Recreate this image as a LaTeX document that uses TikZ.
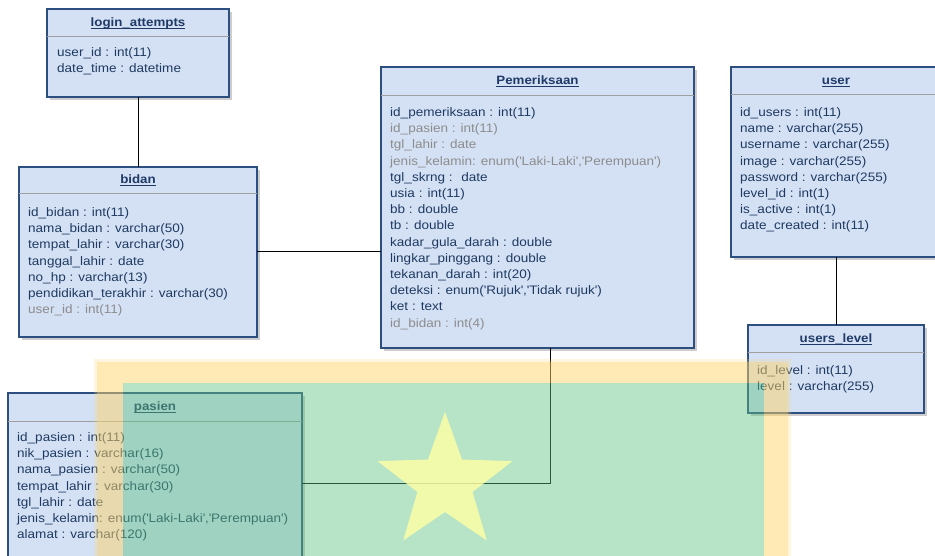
\documentclass[tikz,border=0pt]{standalone}
\usepackage{fontspec}
\setmainfont{Liberation Sans}[FakeStretch=1.1]
\usetikzlibrary{calc}
\definecolor{boxfill}{HTML}{D4E1F5}
\definecolor{bordercol}{HTML}{2D4F7F}
\definecolor{titlecol}{HTML}{1F3A66}
\definecolor{textcol}{HTML}{1E3A60}
\definecolor{fkgray}{HTML}{8C8C8C}
\definecolor{divcol}{HTML}{A0A0A0}
\definecolor{shadowcol}{HTML}{CDCDCD}
\definecolor{ovyellow}{RGB}{255,211,105}
\definecolor{ovgreen}{RGB}{95,193,129}
\definecolor{staryellow}{RGB}{255,254,165}
\newcommand\q{\textquotesingle}
\newcommand\fk[1]{\textcolor{fkgray}{#1}}
\newcommand\ulx[1]{\setbox0\hbox{#1}\rlap{\rule[-2.2pt]{\wd0}{0.8pt}}\box0}
\newcommand\rowlist[1]{\parbox[t]{340pt}{\fontsize{12.3}{16.2}\selectfont\raggedright #1}}
\tikzset{
  tbl/.style={draw=bordercol, fill=boxfill, line width=1.2pt, inner sep=0pt, outer sep=0pt},
  ttl/.style={font=\fontsize{12.1}{14}\selectfont\bfseries, text=titlecol, anchor=base, inner sep=0pt},
  rowtext/.style={text=textcol, anchor=base west, inner sep=0pt},
  divline/.style={draw=divcol, line width=0.9pt},
  conn/.style={draw=black, line width=1pt},
}
\begin{document}
\begin{tikzpicture}[x=1pt,y=-1pt]
\useasboundingbox (0,0) rectangle (935,556);
\clip (0,0) rectangle (935,556);

% login_attempts
\fill[shadowcol] (50,12) rectangle (232,100);
\node[tbl, minimum width=182, minimum height=88] (login) at (138,53) {};
\draw[divline] (47,36) -- (229,36);
\node[ttl] (login-title) at (138,26.5) {\ulx{login\_attempts}};
\node[rowtext] (login-rows) at (57,56.5) {\rowlist{user\_id : int(11)\\ date\_time : datetime}};

% bidan
\fill[shadowcol] (22,170) rectangle (260,340);
\node[tbl, minimum width=238, minimum height=170] (bidan) at (138,252) {};
\draw[divline] (19,193) -- (257,193);
\node[ttl] (bidan-title) at (138,183.5) {\ulx{bidan}};
\node[rowtext] (bidan-rows) at (28,216.5) {\rowlist{id\_bidan : int(11)\\ nama\_bidan : varchar(50)\\ tempat\_lahir : varchar(30)\\ tanggal\_lahir : date\\ no\_hp : varchar(13)\\ pendidikan\_terakhir : varchar(30)\\ \fk{user\_id : int(11)}}};

% Pemeriksaan
\fill[shadowcol] (384,70) rectangle (697,351);
\node[tbl, minimum width=313, minimum height=281] (pem) at (537.5,207.5) {};
\draw[divline] (381,95) -- (694,95);
\node[ttl] (pem-title) at (537.5,84.5) {\ulx{Pemeriksaan}};
\node[rowtext] (pem-rows) at (390,116.5) {\rowlist{id\_pemeriksaan : int(11)\\ \fk{id\_pasien : int(11)}\\ \fk{tgl\_lahir : date}\\ \fk{jenis\_kelamin: enum(\q Laki-Laki\q,\q Perempuan\q)}\\ tgl\_skrng :~ date\\ usia : int(11)\\ bb : double\\ tb : double\\ kadar\_gula\_darah : double\\ lingkar\_pinggang : double\\ tekanan\_darah : int(20)\\ deteksi : enum(\q Rujuk\q,\q Tidak rujuk\q)\\ ket : text\\ \fk{id\_bidan : int(4)}}};

% user
\fill[shadowcol] (734,70) rectangle (944,260);
\node[tbl, minimum width=210, minimum height=190] (user) at (836,162) {};
\draw[divline] (731,94) -- (941,94);
\node[ttl] (user-title) at (836,84.5) {\ulx{user}};
\node[rowtext] (user-rows) at (740,116.5) {\rowlist{id\_users : int(11)\\ name : varchar(255)\\ username : varchar(255)\\ image : varchar(255)\\ password : varchar(255)\\ level\_id : int(1)\\ is\_active : int(1)\\ date\_created : int(11)}};

% users_level
\fill[shadowcol] (751,328) rectangle (927,416);
\node[tbl, minimum width=176, minimum height=88] (ulevel) at (836,369) {};
\draw[divline] (748,352) -- (924,352);
\node[ttl] (ulevel-title) at (836,342.5) {\ulx{users\_level}};
\node[rowtext] (ulevel-rows) at (757,374.5) {\rowlist{id\_level : int(11)\\ level : varchar(255)}};

% pasien
\fill[shadowcol] (11,396) rectangle (305,576);
\node[tbl, minimum width=294, minimum height=180] (pasien) at (155,483) {};
\draw[divline] (8,421) -- (302,421);
\node[ttl] (pasien-title) at (155,410.5) {\ulx{pasien}};
\node[rowtext] (pasien-rows) at (17,441.5) {\rowlist{id\_pasien : int(11)\\ nik\_pasien : varchar(16)\\ nama\_pasien : varchar(50)\\ tempat\_lahir : varchar(30)\\ tgl\_lahir : date\\ jenis\_kelamin: enum(\q Laki-Laki\q,\q Perempuan\q)\\ alamat : varchar(120)}};

% connectors
\draw[conn] (login.south) -- (bidan.north);
\draw[conn] (bidan.east) -- (bidan.east -| pem.west);
\draw[conn] ([xshift=12.5pt]pem.south) |- (pasien.east);
\draw[conn] (user.south) -- (ulevel.north);

% overlay: yellow frame, green field, star
\fill[ovyellow, opacity=0.2, even odd rule] (94,359) rectangle (791,570) (97,362) rectangle (788,570);
\fill[ovyellow, opacity=0.5, even odd rule] (97,362) rectangle (788,570) (123,383) rectangle (764,570);
\fill[ovgreen, opacity=0.45] (123,383) rectangle (764,570);
\fill[staryellow, opacity=0.82]
  (445,483) ++(270:71) -- ++(0,0)
  \foreach \k in {0,...,4} { -- ($(445,483)+({270+\k*72}:71)$) -- ($(445,483)+({306+\k*72}:29)$) } -- cycle;
\end{tikzpicture}
\end{document}
